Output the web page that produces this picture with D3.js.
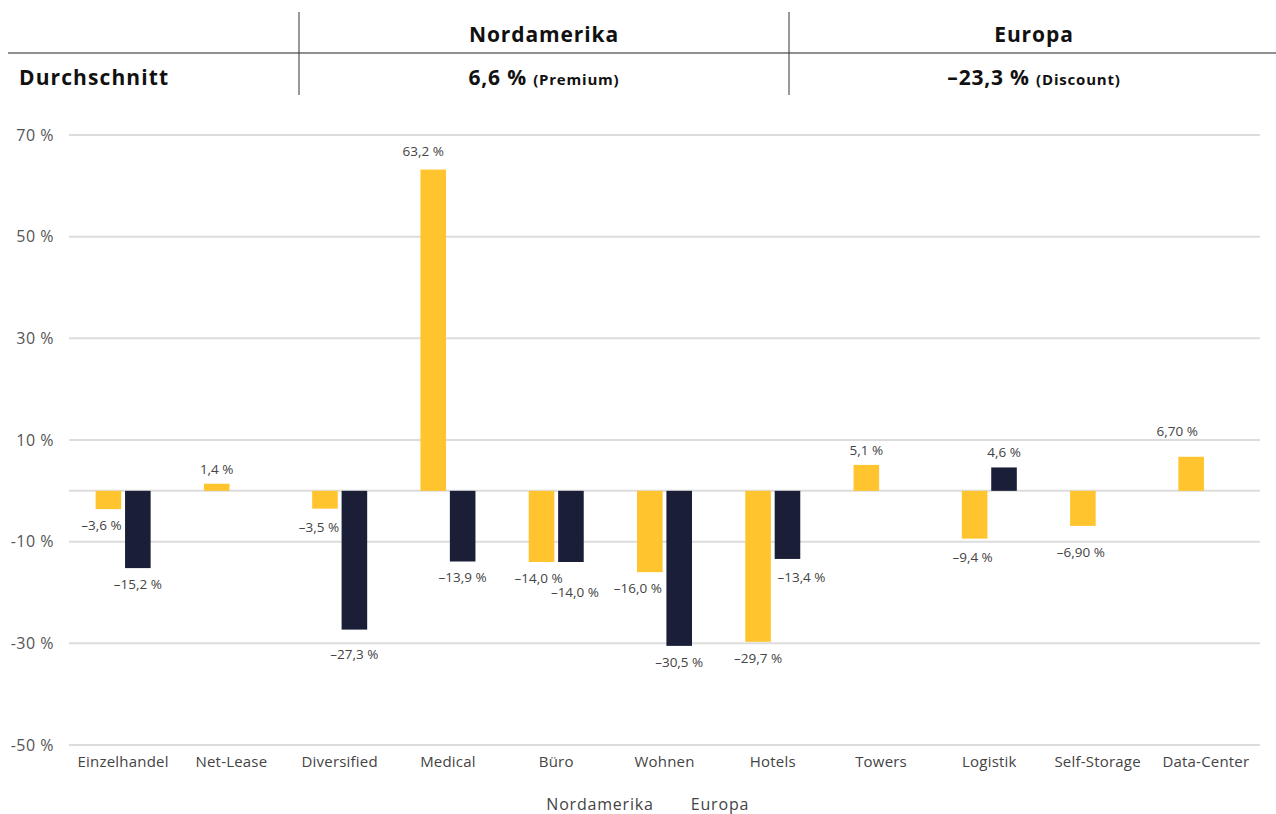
<!DOCTYPE html>
<html lang="de">
<head>
<meta charset="utf-8">
<script src="https://cdn.jsdelivr.net/npm/d3@7"></script>
<style>
  html, body { margin: 0; padding: 0; background: #fff; }
  svg { display: block; font-family: "Open Sans", "Noto Sans", sans-serif; }
</style>
</head>
<body>
<svg id="chart" width="1276" height="814"></svg>
<script>
// Sektoren
const categories = ["Einzelhandel", "Net-Lease", "Diversified", "Medical", "Büro", "Wohnen",
                    "Hotels", "Towers", "Logistik", "Self-Storage", "Data-Center"];
// Prämie / Abschlag zum NAV in %, null = kein Wert
const nordamerika = [-3.6, 1.4, -3.5, 63.2, -14.0, -16.0, -29.7, 5.1, -9.4, -6.9, 6.7];
const europa      = [-15.2, null, -27.3, -13.9, -14.0, -30.5, -13.4, null, 4.6, null, null];
// Beschriftungen der Balken
const nordLabels  = ["–3,6 %", "1,4 %", "–3,5 %", "63,2 %", "–14,0 %", "–16,0 %", "–29,7 %", "5,1 %", "–9,4 %", "–6,90 %", "6,70 %"];
const euroLabels  = ["–15,2 %", null, "–27,3 %", "–13,9 %", "–14,0 %", "–30,5 %", "–13,4 %", null, "4,6 %", null, null];
const seriesNames = ["Nordamerika", "Europa"];
const yTicks = [70, 50, 30, 10, -10, -30, -50];
const headerCols = ["Nordamerika", "Europa"];
const avgValues = ["6,6 %", "–23,3 %"];
const avgNotes = ["(Premium)", "(Discount)"];

const colors = { Nordamerika: "#FFC42E", Europa: "#1A1E37" };

const svg = d3.select("#chart");

// ---- Kopftabelle ----
const head = svg.append("g");
head.append("line").attr("x1", 8).attr("x2", 1276).attr("y1", 53).attr("y2", 53)
  .attr("stroke", "#222").attr("stroke-width", 1.2);
[299, 789].forEach(x => head.append("line").attr("x1", x).attr("x2", x)
  .attr("y1", 12).attr("y2", 95).attr("stroke", "#333").attr("stroke-width", 1));
const colCenters = [544, 1034];
headerCols.forEach((h, i) => {
  head.append("text").attr("x", colCenters[i]).attr("y", 42).attr("text-anchor", "middle")
    .attr("font-size", 21).attr("font-weight", 700).attr("letter-spacing", 0.9)
    .attr("fill", "#111").text(h);
  const t = head.append("text").attr("x", colCenters[i]).attr("y", 85).attr("text-anchor", "middle")
    .attr("fill", "#111").attr("font-weight", 700).attr("letter-spacing", 0.8);
  t.append("tspan").attr("font-size", 21).text(avgValues[i] + " ");
  t.append("tspan").attr("font-size", 15).text(avgNotes[i]);
});
head.append("text").attr("x", 19).attr("y", 85).attr("font-size", 21).attr("font-weight", 700)
  .attr("letter-spacing", 1.1).attr("fill", "#111").text("Durchschnitt");

// ---- Skalen ----
const x0 = d3.scaleBand().domain(categories).range([69, 1260]).padding(0);
const y = d3.scaleLinear().domain([-50, 70]).range([745, 135]);
const x1 = d3.scaleBand().domain(seriesNames).range([-27.5, 27.5]).paddingInner(0.13);

// Gitterlinien (inkl. Nulllinie)
const grid = svg.append("g");
grid.selectAll("line").data(yTicks.concat([0])).join("line")
  .attr("x1", 69).attr("x2", 1260)
  .attr("y1", d => y(d)).attr("y2", d => y(d))
  .attr("stroke", "#dcdcdc").attr("stroke-width", 2);

// Y-Achse
const yAxis = svg.append("g").attr("transform", "translate(54,0)")
  .call(d3.axisLeft(y).tickValues(yTicks).tickSize(0).tickPadding(0)
    .tickFormat(d => d + " %"));
yAxis.select(".domain").remove();
yAxis.selectAll("text").attr("font-size", 16).attr("fill", "#555").attr("letter-spacing", 0.5)
  .attr("font-family", "'Open Sans', sans-serif");

// X-Achse (Kategorien)
const xAxis = svg.append("g").attr("transform", "translate(0,752)")
  .call(d3.axisBottom(x0).tickSize(0).tickPadding(4));
xAxis.select(".domain").remove();
xAxis.selectAll("text").attr("font-size", 15).attr("fill", "#444").attr("letter-spacing", 0.2)
  .attr("font-family", "'Open Sans', sans-serif");

// ---- Balken ----
const rows = [];
categories.forEach((c, i) => {
  rows.push({ cat: c, s: "Nordamerika", v: nordamerika[i], label: nordLabels[i] });
  rows.push({ cat: c, s: "Europa", v: europa[i], label: euroLabels[i] });
});
const valid = rows.filter(d => d.v !== null);
const cx = d => x0(d.cat) + x0.bandwidth() / 2 + x1(d.s);

svg.append("g").selectAll("rect").data(valid).join("rect")
  .attr("x", d => cx(d))
  .attr("width", x1.bandwidth())
  .attr("y", d => y(Math.max(0, d.v)))
  .attr("height", d => Math.abs(y(d.v) - y(0)))
  .attr("fill", d => colors[d.s]);

// Wertbeschriftungen, einzelne Verschiebungen gegen Überlappung
const nudge = {
  "Einzelhandel|Nordamerika": [-7, 0], "Diversified|Nordamerika": [-6, 2],
  "Diversified|Europa": [0, 8], "Medical|Nordamerika": [-10, -4],
  "Büro|Nordamerika": [-3, 0], "Büro|Europa": [4, 14],
  "Wohnen|Nordamerika": [-12, 0], "Hotels|Europa": [14, 2],
  "Data-Center|Nordamerika": [-14, -11], "Self-Storage|Nordamerika": [-2, 10],
  "Logistik|Nordamerika": [-2, 2]
};
svg.append("g").selectAll("text").data(valid).join("text")
  .attr("x", d => cx(d) + x1.bandwidth() / 2 + (nudge[d.cat + "|" + d.s] || [0, 0])[0])
  .attr("y", d => (d.v < 0 ? y(d.v) + 21 : y(d.v) - 10) + (nudge[d.cat + "|" + d.s] || [0, 0])[1])
  .attr("text-anchor", "middle")
  .attr("font-size", 13.5).attr("fill", "#444")
  .text(d => d.label);

// ---- Legende ----
const legend = svg.append("g");
const legX = [600, 720];
seriesNames.forEach((s, i) => {
  legend.append("text").attr("x", legX[i]).attr("y", 810).attr("text-anchor", "middle")
    .attr("font-size", 16).attr("letter-spacing", 0.8).attr("fill", "#444").text(s);
});
</script>
</body>
</html>
